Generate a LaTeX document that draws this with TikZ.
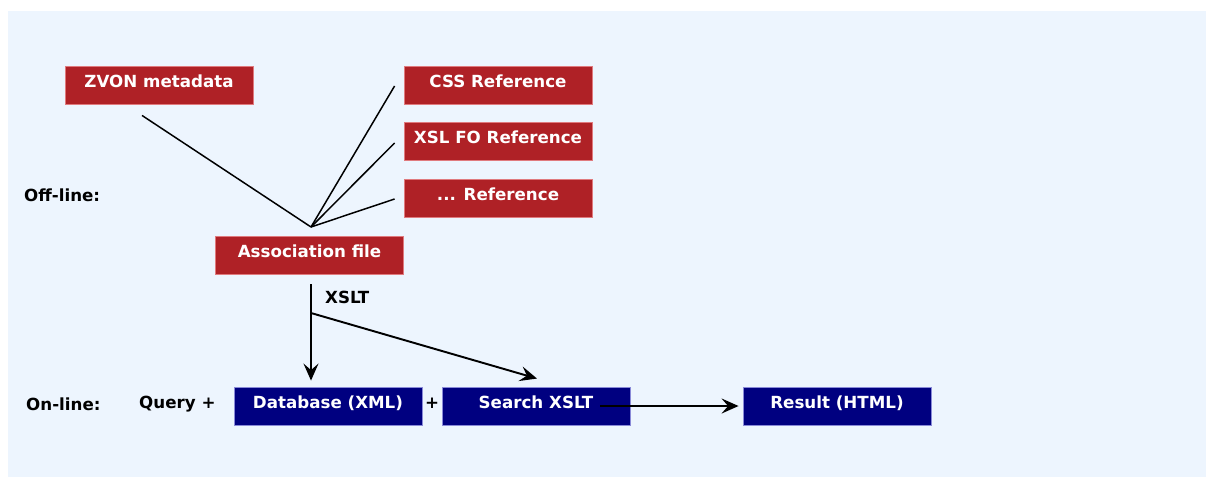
\documentclass[tikz,border=0pt]{standalone}
\usepackage{fontspec}
\setmainfont{DejaVu Sans}
\usepackage{xcolor}
\usetikzlibrary{calc, arrows.meta, positioning}
\definecolor{panel}{HTML}{EDF5FE}
\definecolor{refred}{HTML}{AF2126}
\definecolor{refedge}{HTML}{E07A7E}
\definecolor{webblue}{HTML}{000080}
\definecolor{webedge}{HTML}{8A8AD8}

\begin{document}
\begin{tikzpicture}[x=0.02cm, y=-0.02cm,
	font=\fontsize{9.5}{11}\selectfont\bfseries,
	box/.style={minimum width=3.76cm, minimum height=0.76cm, inner sep=0pt, text=white, text height=0.22cm, text depth=0.14cm, line width=0.5pt},
	refbox/.style={box, fill=refred, draw=refedge},
	webbox/.style={box, fill=webblue, draw=webedge},
	link/.style={line width=0.85pt, black},
	flow/.style={line width=1.1pt, black, -{Stealth[length=0.34cm,width=0.3cm,inset=0.13cm]}}]
	\useasboundingbox (0,0) rectangle (1206,477);
	\fill[panel] (8,11) rectangle (1206,477);
	% off-line part
	\node[refbox] (zvon) at (159,85) {ZVON metadata};
	\node[refbox] (css) at (498,85) {CSS Reference};
	\node[refbox] (xslfo) at (498,141) {XSL FO Reference};
	\node[refbox] (otherref) at (498,198.5) {... Reference};
	\node[refbox] (assoc) at (309.5,255) {Association file};
	\node[right] (offline) at (18,195) {Off-line:};
	\coordinate (conv) at (311,227);
	\draw[link] ($(zvon.south)+(-17,11)$) -- (conv);
	\draw[link] ($(css.west)+(-9,1)$) -- (conv);
	\draw[link] ($(xslfo.west)+(-9,2)$) -- (conv);
	\draw[link] ($(otherref.west)+(-9,0.5)$) -- (conv);
	% on-line part
	\node[right] (online) at (20,404) {On-line:};
	\node[right] (query) at (133,404) {Query +};
	\node[webbox] (db) at (328,406) {Database (XML)};
	\node (plus) at (432,403) {+};
	\node[webbox] (search) at (536,406) {Search XSLT};
	\node[webbox] (result) at (837,406) {Result (HTML)};
	\node[right] (xslt) at (319,297) {XSLT};
	\coordinate (xsrc) at (311,284);
	\coordinate (fork) at (311,313);
	\draw[flow] (xsrc) -- ($(xsrc |- db.north)+(0,-6)$);
	\draw[flow] (fork) -- ($(search.north)+(1,-8)$);
	\draw[flow] ($(search.east)+(-30,0)$) -- ($(result.west)+(-4,0)$);
\end{tikzpicture}
\end{document}
